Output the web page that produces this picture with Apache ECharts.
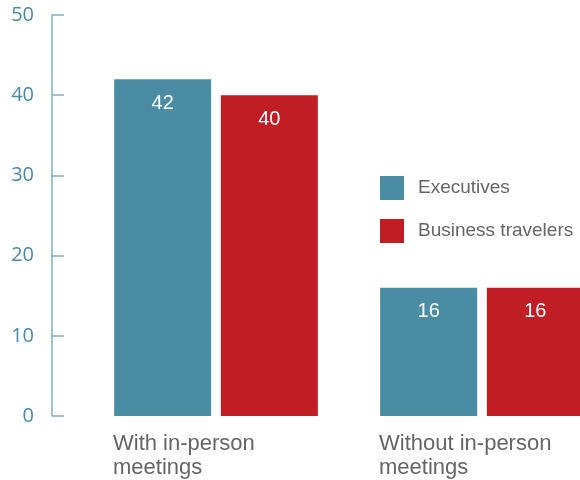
<!DOCTYPE html>
<html>
<head>
<meta charset="utf-8">
<script src="https://cdn.jsdelivr.net/npm/echarts@6/dist/echarts.min.js"></script>
<style>
  html, body { margin: 0; padding: 0; background: #fff; }
  #chart { width: 580px; height: 480px; }
</style>
</head>
<body>
<div id="chart"></div>
<script>
// Share of respondents, grouped by meeting style
const categories = ['With in-person\nmeetings', 'Without in-person\nmeetings'];
const seriesNames = ['Executives', 'Business travelers'];
const executives = [42, 16];
const businessTravelers = [40, 16];
const yTicks = { min: 0, max: 50, interval: 10 };

const teal = '#4a8ca4';
const red = '#c01d24';
const axisTeal = '#80b0c3';

const chart = echarts.init(document.getElementById('chart'), null, { renderer: 'canvas' });

const barLabel = {
  show: true,
  position: 'insideTop',
  distance: 14,
  color: '#ffffff',
  fontFamily: 'Liberation Sans, Arial, sans-serif',
  fontSize: 20
};

chart.setOption({
  animation: false,
  grid: {
    left: 83, width: 532, top: 15, bottom: 64,
    containLabel: false,
    outerBoundsMode: 'none'
  },
  legend: {
    orient: 'vertical',
    left: 380,
    top: 176,
    padding: 0,
    itemWidth: 24,
    itemHeight: 24,
    itemGap: 19,
    icon: 'rect',
    data: seriesNames,
    textStyle: {
      color: '#666666',
      fontFamily: 'Liberation Sans, Arial, sans-serif',
      fontSize: 19,
      padding: [0, 0, 4, 9]
    }
  },
  xAxis: {
    type: 'category',
    data: categories,
    axisLine: { show: false },
    axisTick: { show: false },
    axisLabel: {
      interval: 0,
      margin: 16,
      width: 206,
      align: 'center',
      formatter: v => '{t|' + v.split('\n').join('}\n{t|') + '}',
      rich: {
        t: {
          align: 'left',
          color: '#666666',
          fontFamily: 'Liberation Sans, Arial, sans-serif',
          fontSize: 22,
          lineHeight: 24
        }
      }
    }
  },
  yAxis: {
    type: 'value',
    min: yTicks.min,
    max: yTicks.max,
    interval: yTicks.interval,
    offset: 31,
    axisLine: { show: true, lineStyle: { color: axisTeal, width: 1.5 } },
    axisTick: { show: true, inside: true, length: 12, lineStyle: { color: axisTeal, width: 1.5 } },
    splitLine: { show: false },
    axisLabel: {
      margin: 18,
      color: '#4a8ca4',
      fontFamily: 'Open Sans, sans-serif',
      fontSize: 20,
      padding: [6, 0, 0, 0]
    }
  },
  series: [
    {
      name: seriesNames[0],
      type: 'bar',
      data: executives,
      barWidth: 97,
      barGap: '10%',
      itemStyle: { color: teal },
      label: barLabel
    },
    {
      name: seriesNames[1],
      type: 'bar',
      data: businessTravelers,
      barWidth: 97,
      itemStyle: { color: red },
      label: barLabel
    }
  ]
});
</script>
</body>
</html>
